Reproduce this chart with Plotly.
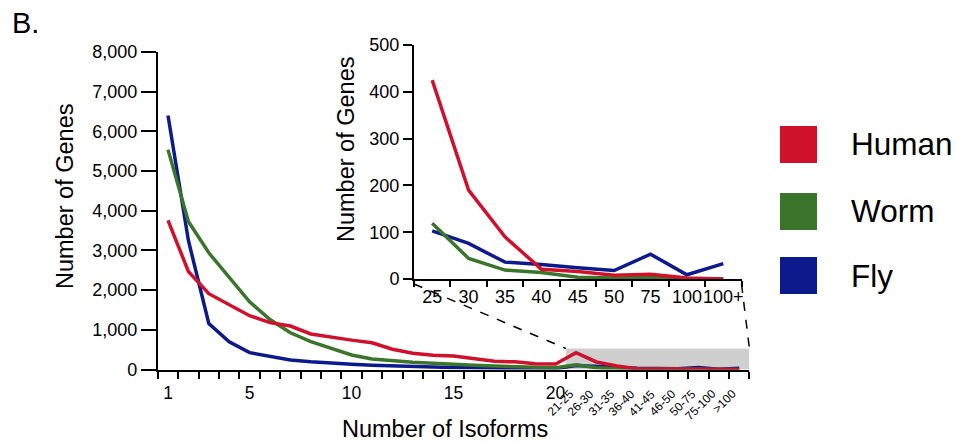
import plotly.graph_objects as go

# ---------------- data ----------------
categories = [str(i) for i in range(1, 21)] + [
    "21-25", "26-30", "31-35", "36-40", "41-45", "46-50", "50-75", "75-100", ">100"]
main_tick_labels = ["1", "5", "10", "15", "20"]
range_labels = ["21-25", "26-30", "31-35", "36-40", "41-45", "46-50", "50-75", "75-100", ">100"]

human = [3760, 2470, 1910, 1620, 1355, 1180, 1095, 895, 810, 740,
         675, 510, 410, 360, 340, 265, 205, 195, 145, 140,
         425, 190, 90, 21, 16, 8, 10, 2, 0]
worm = [5540, 3730, 2940, 2335, 1705, 1260, 925, 700, 535, 365,
        265, 215, 180, 155, 120, 105, 88, 70, 55, 45,
        119, 44, 19, 14, 4, 2, 3, 0, 0]
fly = [6400, 3250, 1160, 700, 425, 340, 240, 195, 155, 130,
       105, 85, 70, 60, 50, 40, 35, 30, 25, 20,
       103, 76, 36, 31, 24, 18, 53, 9, 33]

inset_categories = ["25", "30", "35", "40", "45", "50", "75", "100", "100+"]
inset_human = human[20:]
inset_worm = worm[20:]
inset_fly = fly[20:]

series_names = ["Human", "Worm", "Fly"]
colors = {"Human": "#D0112B", "Worm": "#3A752B", "Fly": "#0D1A8C"}

zoom_box_top = 530  # gene count height of grey highlight box

# ---------------- layout geometry ----------------
W, H = 957, 442
FONT = "Liberation Sans, Arial, Helvetica, sans-serif"

def px(x):
    return x / W

def py(y):
    return (H - y) / H

main_x = [px(157.8), px(749.4)]
main_y = [py(369.5), py(52)]
ins_x = [px(414), px(741.5)]
ins_y = [py(279), py(45)]

fig = go.Figure()

main_data = {"Human": human, "Worm": worm, "Fly": fly}
inset_data = {"Human": inset_human, "Worm": inset_worm, "Fly": inset_fly}
order = ["Fly", "Worm", "Human"]
for name in order:
    fig.add_trace(go.Scatter(x=categories, y=main_data[name], mode="lines",
                             line=dict(color=colors[name], width=3.5),
                             name=name, showlegend=False, xaxis="x", yaxis="y"))
for name in order:
    fig.add_trace(go.Scatter(x=inset_categories, y=inset_data[name], mode="lines",
                             line=dict(color=colors[name], width=3.5),
                             name=name, showlegend=False, xaxis="x2", yaxis="y2"))

axis_common = dict(showgrid=False, zeroline=False, showline=True, linecolor="black",
                   linewidth=2, ticks="outside", tickcolor="black", tickwidth=2,
                   automargin=False, tickangle=0)

fig.update_layout(
    width=W, height=H, autosize=False, showlegend=False,
    margin=dict(l=0, r=0, t=0, b=0, pad=0, autoexpand=False),
    paper_bgcolor="white", plot_bgcolor="rgba(0,0,0,0)",
    font=dict(family=FONT, color="black"),
    xaxis=dict(domain=main_x, anchor="y", type="category",
               categoryorder="array", categoryarray=categories,
               range=[-0.5, len(categories) - 0.5],
               tickmode="array", tickvals=categories,
               ticktext=[c if c in main_tick_labels else "" for c in categories],
               tickson="boundaries", ticklen=7, ticklabelstandoff=6,
               tickfont=dict(size=17.5), **axis_common),
    yaxis=dict(domain=main_y, anchor="x", range=[0, 8000], dtick=1000,
               tickformat=",d", ticklen=15, tickfont=dict(size=18),
               **axis_common),
    xaxis2=dict(domain=ins_x, anchor="y2", type="category",
                categoryorder="array", categoryarray=inset_categories,
                range=[-0.5, len(inset_categories) - 0.5],
                tickson="boundaries", ticklen=6, tickfont=dict(size=18),
                **axis_common),
    yaxis2=dict(domain=ins_y, anchor="x2", range=[0, 500], dtick=100,
                ticklen=9, tickfont=dict(size=18), **axis_common),
)

# grey highlighted region on main chart
first_range = categories.index(range_labels[0])
fig.add_shape(type="rect", xref="x", yref="y",
              x0=first_range - 0.5, x1=len(categories) - 0.5, y0=0, y1=zoom_box_top,
              fillcolor="#CFCFCF", line=dict(width=0), layer="below")

# dashed connector lines (paper coords derived from axes geometry)
mx0, mx1 = main_x
my0, my1 = main_y
n = len(categories)
gx0 = mx0 + first_range / n * (mx1 - mx0)
gx1 = mx1
gy = my0 + zoom_box_top / 8000 * (my1 - my0)
fig.add_shape(type="line", xref="paper", yref="paper",
              x0=ins_x[0], y0=ins_y[0] - 5 / H, x1=gx0, y1=gy,
              line=dict(color="black", width=1.5, dash="dash"))
fig.add_shape(type="line", xref="paper", yref="paper",
              x0=ins_x[1], y0=ins_y[0] - 5 / H, x1=gx1, y1=gy,
              line=dict(color="black", width=1.5, dash="dash"))

annotations = []
# rotated range labels on main x axis
for lab in range_labels:
    annotations.append(dict(x=categories.index(lab), y=py(384), xref="x", yref="paper",
                            text=lab, showarrow=False, textangle=-45,
                            xanchor="right", yanchor="top", xshift=3,
                            font=dict(size=12, family=FONT)))
# titles
annotations += [
    dict(x=px(10), y=py(5), xref="paper", yref="paper", text="B.", showarrow=False,
         xanchor="left", yanchor="top", font=dict(size=29, family=FONT)),
    dict(x=px(65), y=py(197), xref="paper", yref="paper", text="Number of Genes",
         showarrow=False, textangle=-90, xanchor="center", yanchor="middle",
         font=dict(size=23.5, family=FONT)),
    dict(x=px(346), y=py(150), xref="paper", yref="paper", text="Number of Genes",
         showarrow=False, textangle=-90, xanchor="center", yanchor="middle",
         font=dict(size=23.5, family=FONT)),
    dict(x=px(445), y=py(428.5), xref="paper", yref="paper", text="Number of Isoforms",
         showarrow=False, xanchor="center", yanchor="middle",
         font=dict(size=23.5, family=FONT)),
]

# custom legend: coloured squares + labels
legend_rows = {"Human": 144.5, "Worm": 211.5, "Fly": 275.5}
for name in series_names:
    cy = legend_rows[name]
    fig.add_shape(type="rect", xref="paper", yref="paper",
                  x0=px(780), x1=px(817), y0=py(cy + 18.5), y1=py(cy - 18.5),
                  fillcolor=colors[name], line=dict(width=0))
    annotations.append(dict(x=px(849), y=py(cy), xref="paper", yref="paper", text=name,
                            showarrow=False, xanchor="left", yanchor="middle",
                            font=dict(size=31.5, family=FONT)))

fig.update_layout(annotations=annotations)
fig.write_html("out.html")
